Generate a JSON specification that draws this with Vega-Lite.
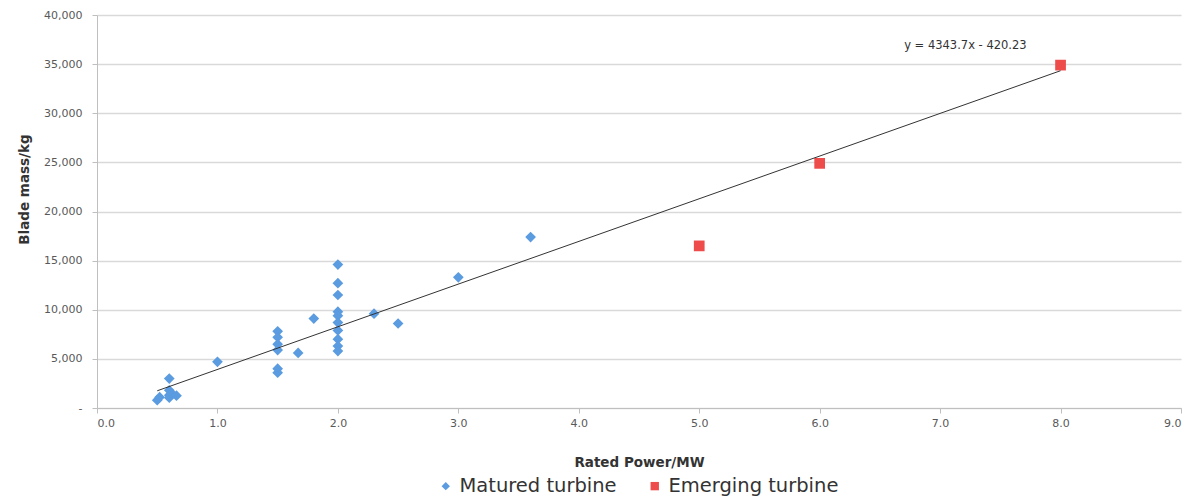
{
  "$schema": "https://vega.github.io/schema/vega-lite/v6.json",
  "width": 1084,
  "height": 393,
  "autosize": {"type": "none"},
  "padding": {"left": 97, "top": 15, "right": 20, "bottom": 91},
  "background": "white",
  "config": {
    "font": "DejaVu Sans",
    "view": {"stroke": null},
    "axis": {
      "labelFont": "DejaVu Sans",
      "labelFontSize": 11,
      "labelColor": "#595959",
      "titleFont": "DejaVu Sans",
      "titleFontSize": 13.5,
      "titleFontWeight": "bold",
      "titleColor": "#333333",
      "domainColor": "#bfbfbf",
      "tickColor": "#bfbfbf",
      "gridColor": "#d9d9d9",
      "gridWidth": 1.5
    }
  },
  "datasets": {
    "turbines": [
      {"power": 0.5, "mass": 800, "type": "Matured turbine"},
      {"power": 0.52, "mass": 1100, "type": "Matured turbine"},
      {"power": 0.6, "mass": 3000, "type": "Matured turbine"},
      {"power": 0.6, "mass": 1800, "type": "Matured turbine"},
      {"power": 0.6, "mass": 1300, "type": "Matured turbine"},
      {"power": 0.6, "mass": 1050, "type": "Matured turbine"},
      {"power": 0.62, "mass": 1500, "type": "Matured turbine"},
      {"power": 0.66, "mass": 1250, "type": "Matured turbine"},
      {"power": 1.0, "mass": 4700, "type": "Matured turbine"},
      {"power": 1.5, "mass": 7800, "type": "Matured turbine"},
      {"power": 1.5, "mass": 7200, "type": "Matured turbine"},
      {"power": 1.5, "mass": 6500, "type": "Matured turbine"},
      {"power": 1.5, "mass": 5900, "type": "Matured turbine"},
      {"power": 1.5, "mass": 4000, "type": "Matured turbine"},
      {"power": 1.5, "mass": 3600, "type": "Matured turbine"},
      {"power": 1.67, "mass": 5600, "type": "Matured turbine"},
      {"power": 1.8, "mass": 9100, "type": "Matured turbine"},
      {"power": 2.0, "mass": 14600, "type": "Matured turbine"},
      {"power": 2.0, "mass": 12700, "type": "Matured turbine"},
      {"power": 2.0, "mass": 11500, "type": "Matured turbine"},
      {"power": 2.0, "mass": 9800, "type": "Matured turbine"},
      {"power": 2.0, "mass": 9400, "type": "Matured turbine"},
      {"power": 2.0, "mass": 8700, "type": "Matured turbine"},
      {"power": 2.0, "mass": 7900, "type": "Matured turbine"},
      {"power": 2.0, "mass": 7000, "type": "Matured turbine"},
      {"power": 2.0, "mass": 6300, "type": "Matured turbine"},
      {"power": 2.0, "mass": 5800, "type": "Matured turbine"},
      {"power": 2.3, "mass": 9600, "type": "Matured turbine"},
      {"power": 2.5, "mass": 8600, "type": "Matured turbine"},
      {"power": 3.0, "mass": 13300, "type": "Matured turbine"},
      {"power": 3.6, "mass": 17400, "type": "Matured turbine"},
      {"power": 5.0, "mass": 16500, "type": "Emerging turbine"},
      {"power": 6.0, "mass": 24900, "type": "Emerging turbine"},
      {"power": 8.0, "mass": 34900, "type": "Emerging turbine"}
    ],
    "trend": [
      {"power": 0.5, "mass": 1752},
      {"power": 8.0, "mass": 34329}
    ],
    "label": [
      {"power": 7.21, "mass": 36800, "text": "y = 4343.7x - 420.23"}
    ]
  },
  "layer": [
    {
      "data": {"name": "turbines"},
      "mark": {"type": "point", "filled": true, "opacity": 1, "size": 115},
      "encoding": {
        "x": {
          "field": "power",
          "type": "quantitative",
          "scale": {"domain": [0, 9], "nice": false},
          "axis": {
            "title": "Rated Power/MW",
            "values": [0, 1, 2, 3, 4, 5, 6, 7, 8, 9],
            "format": ".1f",
            "grid": false,
            "tickSize": 5,
            "labelPadding": 4,
            "titlePadding": 27
          }
        },
        "y": {
          "field": "mass",
          "type": "quantitative",
          "scale": {"domain": [0, 40000], "nice": false},
          "axis": {
            "title": "Blade mass/kg",
            "values": [0, 5000, 10000, 15000, 20000, 25000, 30000, 35000, 40000],
            "labelExpr": "datum.value == 0 ? '-' : format(datum.value, ',')",
            "tickSize": 5,
            "labelPadding": 10,
            "titlePadding": 12,
            "titleY": 174
          }
        },
        "color": {
          "field": "type",
          "type": "nominal",
          "scale": {"domain": ["Matured turbine", "Emerging turbine"], "range": ["#5b9be0", "#ee4b4b"]},
          "legend": {
            "title": null,
            "orient": "none",
            "direction": "horizontal",
            "legendX": 339,
            "legendY": 461,
            "labelFontSize": 19.5,
            "labelLimit": 400,
            "labelColor": "#333333",
            "labelFont": "DejaVu Sans",
            "symbolSize": 70,
            "columnPadding": 28
          }
        },
        "shape": {
          "field": "type",
          "type": "nominal",
          "scale": {"domain": ["Matured turbine", "Emerging turbine"], "range": ["diamond", "square"]},
          "legend": {
            "title": null,
            "orient": "none",
            "direction": "horizontal",
            "legendX": 339,
            "legendY": 461,
            "labelFontSize": 19.5,
            "labelLimit": 400,
            "labelColor": "#333333",
            "labelFont": "DejaVu Sans",
            "symbolSize": 70,
            "columnPadding": 28
          }
        }
      }
    },
    {
      "data": {"name": "trend"},
      "mark": {"type": "line", "color": "#333333", "strokeWidth": 1},
      "encoding": {
        "x": {"field": "power", "type": "quantitative"},
        "y": {"field": "mass", "type": "quantitative"}
      }
    },
    {
      "data": {"name": "label"},
      "mark": {"type": "text", "fontSize": 11.5, "color": "#333333", "font": "DejaVu Sans"},
      "encoding": {
        "x": {"field": "power", "type": "quantitative"},
        "y": {"field": "mass", "type": "quantitative"},
        "text": {"field": "text"}
      }
    }
  ]
}
